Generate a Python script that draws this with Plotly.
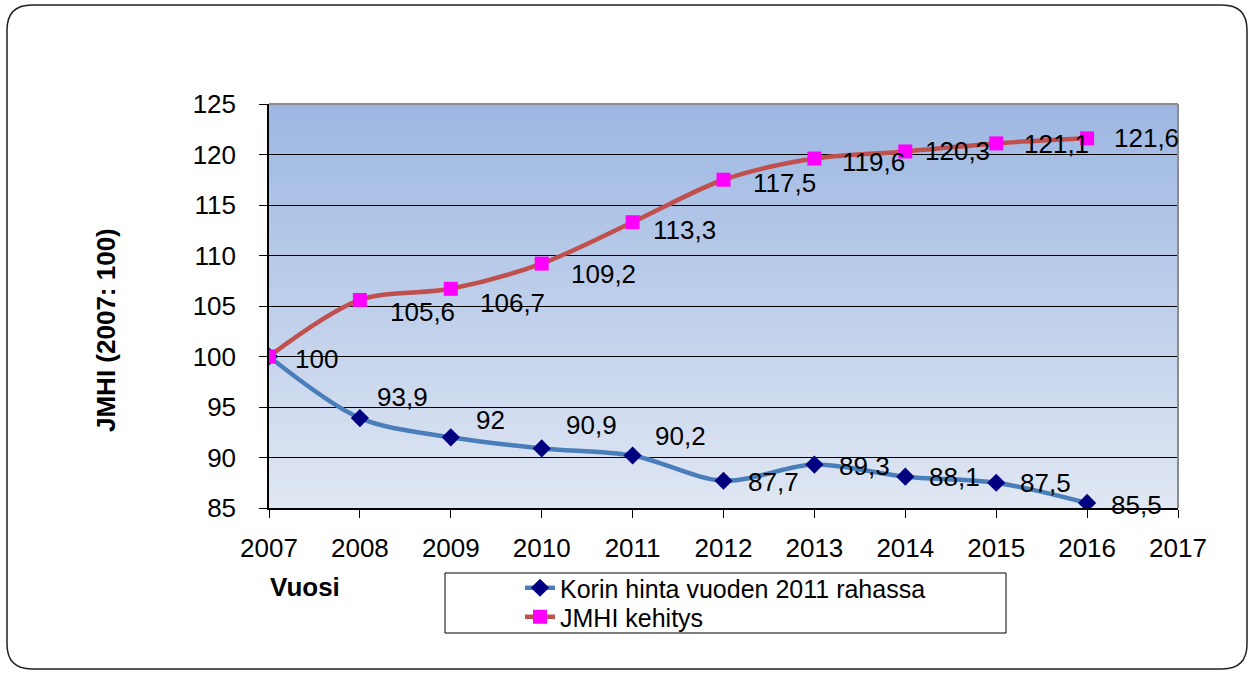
import plotly.graph_objects as go

# ---- data ----
years = [2007, 2008, 2009, 2010, 2011, 2012, 2013, 2014, 2015, 2016]
korin_hinta = [100, 93.9, 92, 90.9, 90.2, 87.7, 89.3, 88.1, 87.5, 85.5]
jmhi = [100, 105.6, 106.7, 109.2, 113.3, 117.5, 119.6, 120.3, 121.1, 121.6]
series_names = ["Korin hinta vuoden 2011 rahassa", "JMHI kehitys"]
y_title = "JMHI (2007: 100)"
x_title = "Vuosi"
x_ticks = list(range(2007, 2018))
y_ticks = list(range(85, 126, 5))

# label offsets (pixels) - styling only
blue_dx = [None, 15, 23, 22, 20, 22, 23, 22, 22, 22]
blue_dy = [None, 21, 17, 23, 19, -1, -1, 0, 0, -2]
red_dx = [24, 28, 27, 27, 18, 27, 26, 18, 26, 25]
red_dy = [-2, -12, -14, -10, -8, -3, -3, 0, -1, 0]

FONT = "Liberation Sans, Arial, sans-serif"
W, H = 1251, 673
L, R, T, B = 269, 1178, 104, 508


def px2x(X):
    return (X - L) / (R - L)


def px2y(Y):
    return (B - Y) / (B - T)


def fmt(v):
    return f"{v:g}".replace(".", ",")


fig = go.Figure()
fig.add_trace(go.Scatter(
    x=years, y=korin_hinta, name=series_names[0], mode="lines+markers",
    line=dict(color="#4a7ebb", width=4.5, shape="spline", smoothing=0.9),
    marker=dict(symbol="diamond", size=14, color="#000080"),
    legend="legend",
))
fig.add_trace(go.Scatter(
    x=years, y=jmhi, name=series_names[1], mode="lines+markers",
    line=dict(color="#c0504d", width=4.5, shape="spline", smoothing=0.9),
    marker=dict(symbol="square", size=14, color="#ff00ff"),
    legend="legend2",
))

annotations = []
for i, (x, v) in enumerate(zip(years, korin_hinta)):
    if blue_dx[i] is None:
        continue
    annotations.append(dict(x=x, y=v, xref="x", yref="y", text=fmt(v), showarrow=False,
                            xanchor="left", yanchor="middle", xshift=blue_dx[i], yshift=blue_dy[i],
                            font=dict(family=FONT, size=26, color="black")))
for i, (x, v) in enumerate(zip(years, jmhi)):
    annotations.append(dict(x=x, y=v, xref="x", yref="y", text=fmt(v), showarrow=False,
                            xanchor="left", yanchor="middle", xshift=red_dx[i], yshift=red_dy[i],
                            font=dict(family=FONT, size=26, color="black")))

annotations.append(dict(x=px2x(106), y=px2y(330), xref="paper", yref="paper", text="<b>" + y_title + "</b>",
                        showarrow=False, textangle=-90, xanchor="center", yanchor="middle",
                        font=dict(family=FONT, size=26, color="black")))
annotations.append(dict(x=px2x(268), y=px2y(587), xref="paper", yref="paper", text="<b>" + x_title + "</b>",
                        showarrow=False, xanchor="left", yanchor="middle",
                        font=dict(family=FONT, size=26, color="black")))

shapes = []
# gradient plot background
N = 80
top = (157, 183, 226)
bot = (224, 231, 243)
for k in range(N):
    t = (k + 0.5) / N
    c = tuple(round(bot[j] + (top[j] - bot[j]) * t) for j in range(3))
    shapes.append(dict(type="rect", xref="paper", yref="paper", x0=0, x1=1,
                       y0=k / N, y1=min(1, (k + 1) / N + 0.002), layer="below",
                       line=dict(width=0), fillcolor=f"rgb{c}"))
# gray top / right border
shapes.append(dict(type="line", xref="paper", yref="paper", x0=0, x1=1, y0=1, y1=1,
                   line=dict(color="#8c8c8c", width=2)))
shapes.append(dict(type="line", xref="paper", yref="paper", x0=1, x1=1, y0=0, y1=1,
                   line=dict(color="#8c8c8c", width=2)))
# legend box
shapes.append(dict(type="rect", xref="paper", yref="paper", x0=px2x(445), x1=px2x(1006),
                   y0=px2y(633), y1=px2y(573), line=dict(color="black", width=1)))
# outer rounded frame
fx0, fx1, fy0, fy1 = px2x(7), px2x(1247), px2y(669), px2y(5)
rx, ry = 25 / (R - L), 25 / (B - T)
path = (f"M {fx0+rx},{fy1} L {fx1-rx},{fy1} Q {fx1},{fy1} {fx1},{fy1-ry} "
        f"L {fx1},{fy0+ry} Q {fx1},{fy0} {fx1-rx},{fy0} "
        f"L {fx0+rx},{fy0} Q {fx0},{fy0} {fx0},{fy0+ry} "
        f"L {fx0},{fy1-ry} Q {fx0},{fy1} {fx0+rx},{fy1} Z")
shapes.append(dict(type="path", xref="paper", yref="paper", path=path,
                   line=dict(color="#222222", width=1.5)))

legend_common = dict(xanchor="left", yanchor="top", bgcolor="rgba(0,0,0,0)", borderwidth=0,
                     font=dict(family=FONT, size=25, color="black"), tracegroupgap=0)

fig.update_layout(
    width=W, height=H,
    margin=dict(l=L, r=W - R, t=T, b=H - B, pad=0),
    paper_bgcolor="white", plot_bgcolor="rgba(0,0,0,0)",
    font=dict(family=FONT, size=26, color="black"),
    showlegend=True,
    legend=dict(x=px2x(520), y=px2y(565), **legend_common),
    legend2=dict(x=px2x(520), y=px2y(594), **legend_common),
    annotations=annotations, shapes=shapes,
)
fig.update_xaxes(range=[2007, 2017], tickvals=x_ticks, ticktext=[str(t) for t in x_ticks],
                 showgrid=False, zeroline=False, showline=True, linecolor="black", linewidth=1.5,
                 ticks="outside", ticklen=8, tickcolor="black", tickwidth=1,
                 tickfont=dict(family=FONT, size=26, color="black"), ticklabelstandoff=8)
fig.update_yaxes(range=[85, 125], tickvals=y_ticks, ticktext=[str(t) for t in y_ticks],
                 showgrid=True, gridcolor="black", gridwidth=1, zeroline=False,
                 showline=True, linecolor="black", linewidth=1.5,
                 ticks="outside", ticklen=8, tickcolor="black", tickwidth=1,
                 tickfont=dict(family=FONT, size=26, color="black"), ticklabelstandoff=18)

fig.write_html("out.html", config={"displayModeBar": False},
               post_script="document.body.style.margin='0';")
